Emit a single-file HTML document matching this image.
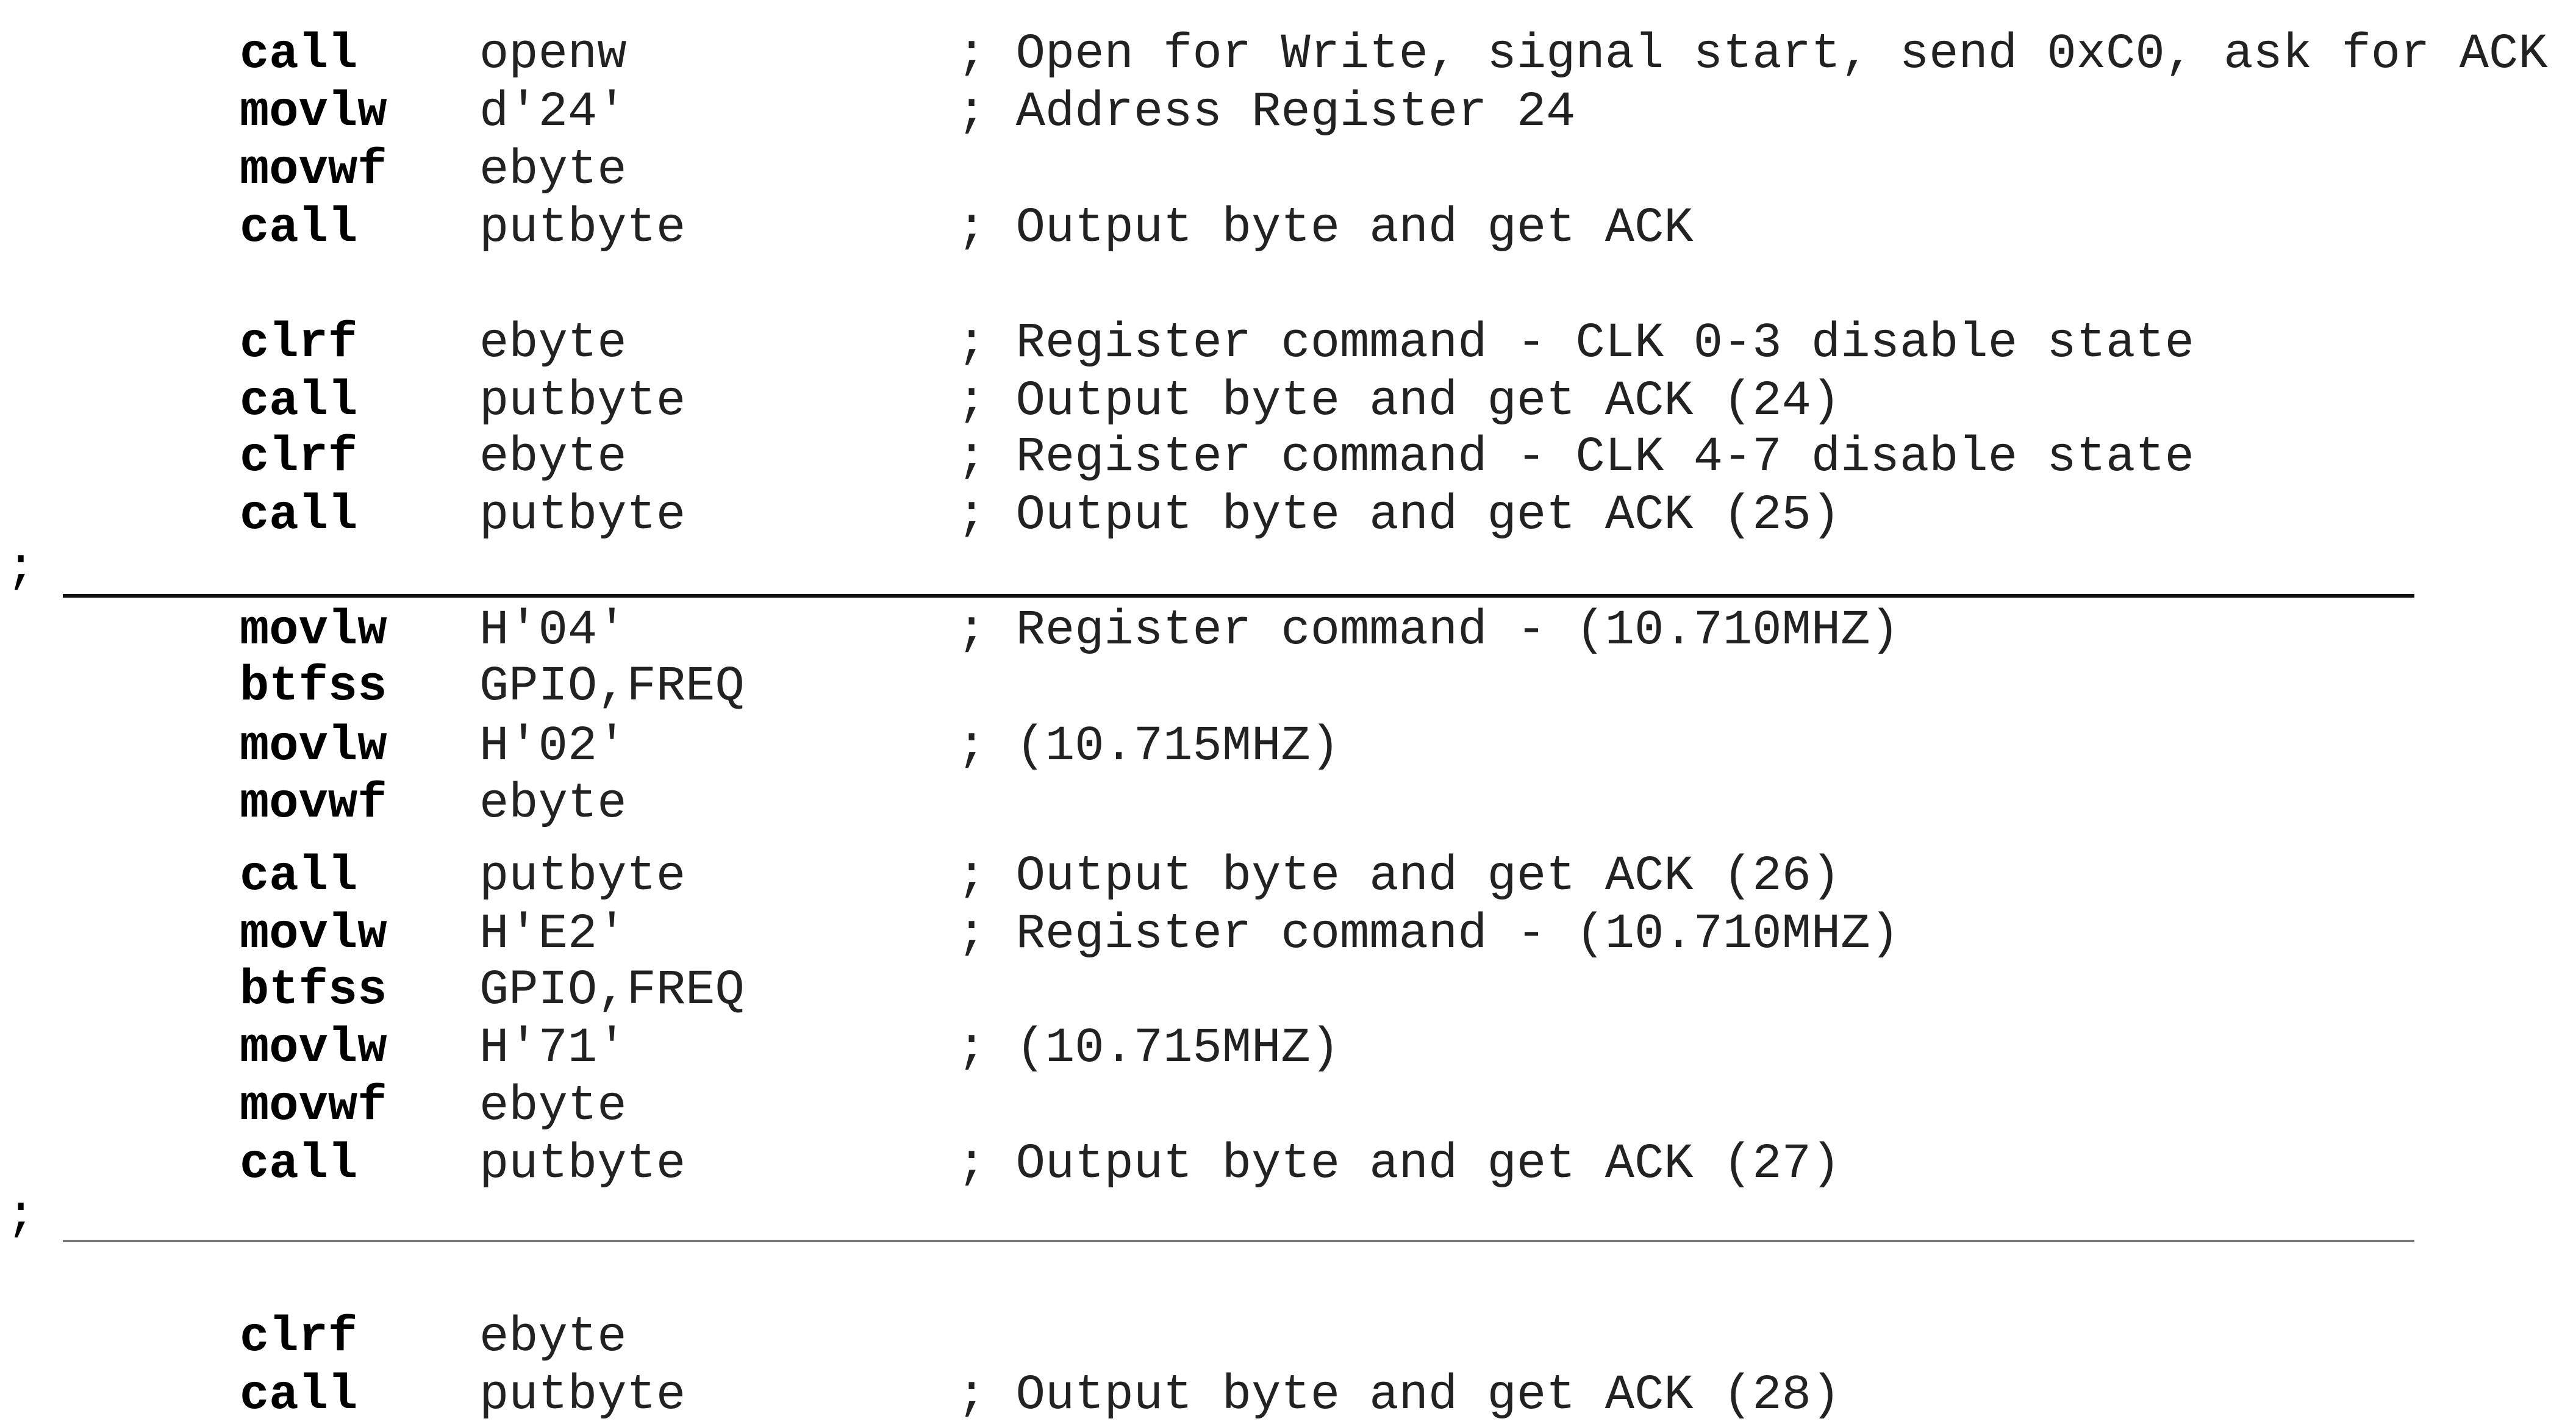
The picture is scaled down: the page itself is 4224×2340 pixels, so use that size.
<!DOCTYPE html>
<html><head><meta charset="utf-8"><style>
html,body{margin:0;padding:0;background:#fff;}
svg{display:block}
text{font-family:"Liberation Mono","DejaVu Sans Mono",monospace;font-size:80.5px;fill:#000;}
.b{font-weight:bold}
.o{fill:#222}
</style></head><body>
<svg width="4224" height="2340" xmlns="http://www.w3.org/2000/svg">
<rect width="4224" height="2340" fill="#fff"/>
<g>
<text class="b" x="393" y="110">call</text><text class="o" x="786" y="110">openw</text><text class="o" x="1569" y="110">; Open for Write, signal start, send 0xC0, ask for ACK</text>
<text class="b" x="393" y="205">movlw</text><text class="o" x="786" y="205">d'24'</text><text class="o" x="1569" y="205">; Address Register 24</text>
<text class="b" x="393" y="300">movwf</text><text class="o" x="786" y="300">ebyte</text>
<text class="b" x="393" y="395">call</text><text class="o" x="786" y="395">putbyte</text><text class="o" x="1569" y="395">; Output byte and get ACK</text>

<text class="b" x="393" y="584">clrf</text><text class="o" x="786" y="584">ebyte</text><text class="o" x="1569" y="584">; Register command - CLK 0-3 disable state</text>
<text class="b" x="393" y="679">call</text><text class="o" x="786" y="679">putbyte</text><text class="o" x="1569" y="679">; Output byte and get ACK (24)</text>
<text class="b" x="393" y="771">clrf</text><text class="o" x="786" y="771">ebyte</text><text class="o" x="1569" y="771">; Register command - CLK 4-7 disable state</text>
<text class="b" x="393" y="866">call</text><text class="o" x="786" y="866">putbyte</text><text class="o" x="1569" y="866">; Output byte and get ACK (25)</text>

<text x="10" y="953">;</text>
<rect x="103" y="974" width="3856" height="6" fill="#111"/>

<text class="b" x="393" y="1055">movlw</text><text class="o" x="786" y="1055">H'04'</text><text class="o" x="1569" y="1055">; Register command - (10.710MHZ)</text>
<text class="b" x="393" y="1147">btfss</text><text class="o" x="786" y="1147">GPIO,FREQ</text>
<text class="b" x="393" y="1245">movlw</text><text class="o" x="786" y="1245">H'02'</text><text class="o" x="1569" y="1245">; (10.715MHZ)</text>
<text class="b" x="393" y="1339">movwf</text><text class="o" x="786" y="1339">ebyte</text>
<text class="b" x="393" y="1458">call</text><text class="o" x="786" y="1458">putbyte</text><text class="o" x="1569" y="1458">; Output byte and get ACK (26)</text>
<text class="b" x="393" y="1553">movlw</text><text class="o" x="786" y="1553">H'E2'</text><text class="o" x="1569" y="1553">; Register command - (10.710MHZ)</text>
<text class="b" x="393" y="1645">btfss</text><text class="o" x="786" y="1645">GPIO,FREQ</text>
<text class="b" x="393" y="1740">movlw</text><text class="o" x="786" y="1740">H'71'</text><text class="o" x="1569" y="1740">; (10.715MHZ)</text>
<text class="b" x="393" y="1835">movwf</text><text class="o" x="786" y="1835">ebyte</text>
<text class="b" x="393" y="1930">call</text><text class="o" x="786" y="1930">putbyte</text><text class="o" x="1569" y="1930">; Output byte and get ACK (27)</text>

<text x="10" y="2015">;</text>
<rect x="103" y="2033" width="3856" height="4" fill="#777"/>

<text class="b" x="393" y="2214">clrf</text><text class="o" x="786" y="2214">ebyte</text>
<text class="b" x="393" y="2309">call</text><text class="o" x="786" y="2309">putbyte</text><text class="o" x="1569" y="2309">; Output byte and get ACK (28)</text>
</g>
</svg>
</body></html>
